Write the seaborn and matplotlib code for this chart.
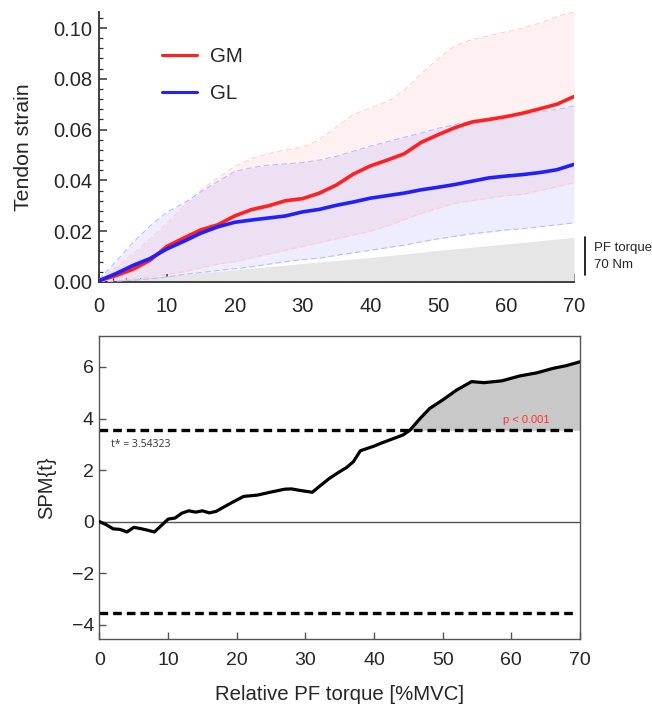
import numpy as np
import pandas as pd
import matplotlib
matplotlib.use("Agg")
import matplotlib.pyplot as plt
import seaborn as sns

# Relative plantar-flexion torque grid (%MVC) for the strain curves
torque_pct = [0, 2.5, 5, 7.5, 10, 12.5, 15, 17.5, 20, 22.5, 25, 27.5, 30, 32.5, 35,
              37.5, 40, 42.5, 45, 47.5, 50, 52.5, 55, 57.5, 60, 62.5, 65, 67.5, 70]

# Mean tendon strain
gm_mean = [0.0005, 0.0025, 0.005, 0.0085, 0.014, 0.0173, 0.0205, 0.0225, 0.026, 0.0285,
           0.030, 0.032, 0.0328, 0.035, 0.0382, 0.0425, 0.0457, 0.048, 0.0505, 0.055,
           0.058, 0.0608, 0.063, 0.064, 0.0651, 0.0665, 0.0682, 0.070, 0.073]
gl_mean = [0.0005, 0.0033, 0.0065, 0.0092, 0.013, 0.016, 0.0192, 0.0217, 0.0235, 0.0244,
           0.0252, 0.026, 0.0276, 0.0286, 0.0302, 0.0315, 0.033, 0.034, 0.035, 0.0363,
           0.0373, 0.0384, 0.0397, 0.041, 0.0417, 0.0423, 0.0431, 0.0442, 0.0463]

# Upper / lower SD envelopes
gm_upper = [0.001, 0.006, 0.011, 0.017, 0.023, 0.030, 0.036, 0.041, 0.0455, 0.0485,
            0.0505, 0.052, 0.053, 0.056, 0.061, 0.066, 0.0685, 0.071, 0.0755, 0.082,
            0.088, 0.093, 0.0955, 0.097, 0.0985, 0.100, 0.102, 0.1045, 0.1064]
gm_lower = [0.0, 0.0005, 0.001, 0.002, 0.003, 0.004, 0.0055, 0.007, 0.008, 0.0095,
            0.011, 0.0125, 0.014, 0.0155, 0.017, 0.0185, 0.020, 0.022, 0.0245, 0.027,
            0.029, 0.031, 0.032, 0.033, 0.034, 0.0345, 0.036, 0.0375, 0.0391]
gl_upper = [0.001, 0.008, 0.0155, 0.022, 0.0275, 0.031, 0.0355, 0.0395, 0.0435, 0.045,
            0.046, 0.0465, 0.047, 0.048, 0.0495, 0.0515, 0.0535, 0.0552, 0.057, 0.0587,
            0.0605, 0.062, 0.0635, 0.0645, 0.065, 0.066, 0.067, 0.068, 0.0693]
gl_lower = [0.0, 0.0003, 0.0007, 0.0012, 0.002, 0.003, 0.0037, 0.0045, 0.0052, 0.006,
            0.007, 0.008, 0.0088, 0.0094, 0.0105, 0.0115, 0.0125, 0.0135, 0.0145, 0.0158,
            0.017, 0.018, 0.019, 0.0197, 0.0205, 0.021, 0.0218, 0.0225, 0.0233]

# Absolute PF torque (Nm), drawn as a grey background trace
pf_pct = [0, 10, 20, 30, 40, 50, 60, 70]
pf_nm = [0, 11, 22.5, 34, 45, 58, 70, 82]
NM_SCALE = 0.000214          # strain-axis units per Nm
PF_BAR_NM = 70

# SPM{t} trajectory
spm_x = [0, 1, 2, 3, 4, 5, 6, 7, 8, 9, 10, 11, 12, 13, 14, 15, 16, 17, 18, 19, 20, 21,
         23, 25, 27, 28, 29, 31, 32, 33.5, 35, 36, 37, 38, 40, 41, 42.5, 44.2, 45.2,
         46.7, 48.1, 50, 52, 54.2, 56, 58.6, 61.2, 63.7, 66, 68, 70]
spm_t = [0, -0.12, -0.28, -0.3, -0.4, -0.22, -0.27, -0.33, -0.4, -0.15, 0.1, 0.14, 0.33,
         0.42, 0.37, 0.42, 0.34, 0.4, 0.55, 0.7, 0.84, 0.98, 1.03, 1.15, 1.26, 1.27, 1.22,
         1.14, 1.36, 1.68, 1.94, 2.1, 2.33, 2.75, 2.93, 3.04, 3.19, 3.36, 3.54, 4.0, 4.39,
         4.72, 5.1, 5.43, 5.39, 5.46, 5.65, 5.77, 5.94, 6.05, 6.2]
t_crit = 3.54323

sns.set_theme(style="ticks")
plt.rcParams["font.family"] = ["Liberation Sans", "DejaVu Sans"]

fig = plt.figure(figsize=(6.52, 7.06), dpi=100)
ax1 = fig.add_axes([0.1518, 0.6006, 0.7285, 0.3824])
ax2 = fig.add_axes([0.1526, 0.0949, 0.7370, 0.4292])

RED = "#ff2020"
BLUE = "#2020ff"

# ---- top panel: tendon strain ----
x = np.array(torque_pct)
ax1.fill_between(pf_pct, 0, np.array(pf_nm) * NM_SCALE, color="#e6e6e6", lw=0, zorder=1)
ax1.fill_between(x, gm_lower, gm_upper, color=RED, alpha=0.06, lw=0, zorder=2)
ax1.fill_between(x, gl_lower, gl_upper, color=BLUE, alpha=0.08, lw=0, zorder=2)
for arr, c in [(gm_upper, "#ffd0d0"), (gm_lower, "#ffcccc"),
               (gl_upper, "#bcbcfa"), (gl_lower, "#bcbcfa")]:
    ax1.plot(x, arr, color=c, lw=0.8, ls=(0, (5, 3)), zorder=3)

strain = pd.DataFrame({"torque": torque_pct * 2,
                       "strain": gm_mean + gl_mean,
                       "muscle": ["GM"] * len(torque_pct) + ["GL"] * len(torque_pct)})
sns.lineplot(data=strain, x="torque", y="strain", hue="muscle",
             palette={"GM": RED, "GL": BLUE}, lw=2.6, ax=ax1, zorder=4)

ax1.set_xlim(0, 70)
ax1.set_ylim(0, 0.1063)
ax1.set_xticks(range(0, 71, 10))
ax1.set_yticks([0, 0.02, 0.04, 0.06, 0.08, 0.10])
ax1.set_yticklabels(["0.00", "0.02", "0.04", "0.06", "0.08", "0.10"])
ax1.set_xticks(np.arange(0, 71, 2), minor=True)
ax1.set_yticks(np.arange(0, 0.1061, 0.004), minor=True)
ax1.tick_params(which="major", direction="in", length=6, width=1.1, labelsize=14.5,
                color="#333333")
ax1.tick_params(axis="y", which="major", pad=5)
ax1.tick_params(axis="x", which="major", pad=11)
ax1.tick_params(which="minor", direction="in", length=3, width=0.9, color="#333333")
ax1.set_xlabel("")
ax1.set_ylabel("Tendon strain", fontsize=15.3, labelpad=14)
for s in ["top", "right"]:
    ax1.spines[s].set_visible(False)
for s in ["left", "bottom"]:
    ax1.spines[s].set_color("#333333")
    ax1.spines[s].set_linewidth(1.3)

leg = ax1.legend(loc="upper left", bbox_to_anchor=(0.094, 0.94), frameon=False,
                 fontsize=14.8, handlelength=1.7, handletextpad=0.62, labelspacing=0.9)
for h in leg.get_lines():
    h.set_linewidth(2.2)

# PF torque scale bar
bar_x = 71.7
ax1.plot([bar_x, bar_x], [0.0028, 0.0028 + PF_BAR_NM * NM_SCALE], color="black",
         lw=1.2, clip_on=False)
ax1.text(bar_x + 1.2, 0.0134, "PF torque", fontsize=9.5, va="center", ha="left")
ax1.text(bar_x + 1.2, 0.0067, f"{PF_BAR_NM} Nm", fontsize=9.5, va="center", ha="left")

# ---- bottom panel: SPM ----
sx = np.array(spm_x)
st = np.array(spm_t)
ax2.fill_between(sx, t_crit, st, where=st >= t_crit, interpolate=True,
                 color="#c8c8c8", lw=0, zorder=1)
ax2.axhline(0, color="#555555", lw=1.0, zorder=1)
for yv in (t_crit, -t_crit):
    ax2.plot([0, 69.4], [yv, yv], color="black", lw=2.4, ls=(0, (2.6, 1.5)), zorder=2)
spm = pd.DataFrame({"torque": spm_x, "t": spm_t})
sns.lineplot(data=spm, x="torque", y="t", color="black", lw=2.3, ax=ax2, zorder=3)

ax2.text(1.7, 3.0, f"t* = {t_crit}", fontsize=7.5, color="#333333",
         family=["Open Sans", "DejaVu Sans"], va="center", ha="left")
ax2.text(62.2, 3.94, "p < 0.001", fontsize=8, color="#ff3030", va="center", ha="center")

ax2.set_xlim(0, 70)
ax2.set_ylim(-4.55, 7.2)
ax2.set_xticks(range(0, 71, 10))
ax2.set_yticks(range(-4, 7, 2))
ax2.tick_params(direction="in", length=5, width=1, labelsize=14, color="#555555")
ax2.tick_params(axis="x", pad=9)
ax2.tick_params(axis="y", pad=4)
ax2.set_xlabel("Relative PF torque [%MVC]", fontsize=14.7, labelpad=12)
ax2.set_ylabel("SPM{t}", fontsize=14.5, labelpad=11)
for s in ax2.spines.values():
    s.set_color("#555555")
    s.set_linewidth(1.0)

fig.savefig("out.png", dpi=100)
